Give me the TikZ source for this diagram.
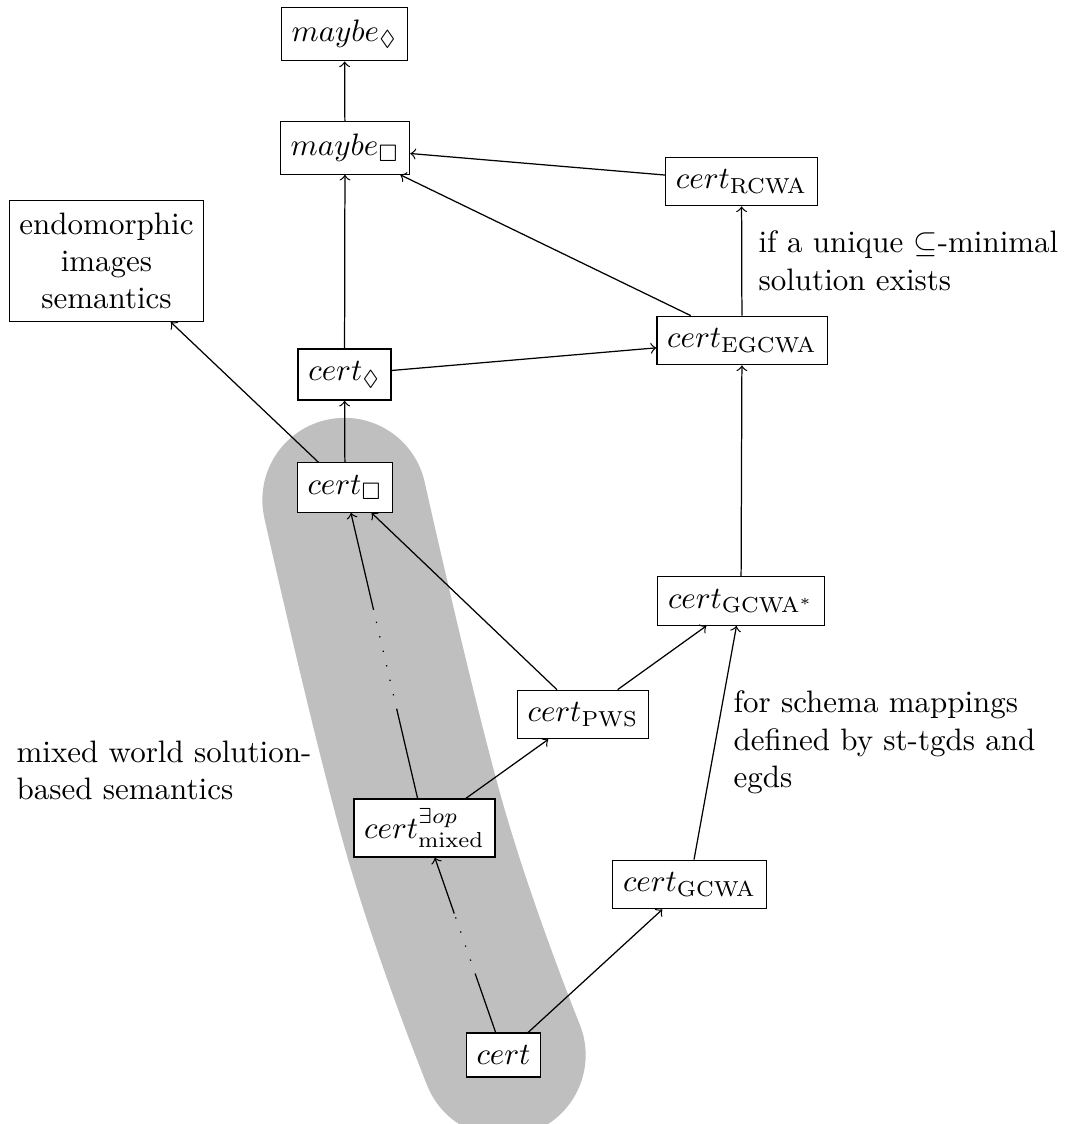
\documentclass[tikz,border=0pt]{standalone}
\usepackage{amssymb}
\usetikzlibrary{arrows}
\begin{document}
\begin{tikzpicture}[x=0.3226pt,y=-0.3226pt,
  box/.style={draw,fill=white,inner xsep=3.333pt,inner ysep=4pt},
  lab/.style={anchor=north west,align=left,inner sep=0pt},
  edge/.style={->},
  sparsedots/.style={dash pattern=on 0.4pt off 4.4pt}]
\useasboundingbox (0,0) rectangle (1067,1124);
% gray band
\draw[line width=53pt,color=lightgray,line cap=round,line join=round]
  plot[smooth,tension=0.7] coordinates {(344.5,500) (424.5,828) (503.5,1055)};
% nodes
\node[box] (md) at (344.5,34) {$maybe_{\Diamond}$};
\node[box] (mb) at (345,148) {$maybe_{\Box}$};
\node[box] (rcwa) at (741.5,181.5) {$cert_{\mathrm{RCWA}}$};
\node[box,align=center] (endo) at (106.5,261) {endomorphic\\images\\semantics};
\node[box] (cd) at (344.5,374.5) {$cert_{\Diamond}$};
\node[box] (egcwa) at (742,340.5) {$cert_{\mathrm{EGCWA}}$};
\node[box] (cb) at (345,487.5) {$cert_{\Box}$};
\node[box] (gcwas) at (741,601) {$cert_{\mathrm{GCWA}^*}$};
\node[box] (pws) at (583,714.5) {$cert_{\mathrm{PWS}}$};
\node[box,inner ysep=3pt] (mixed) at (424.5,828) {$cert^{\exists op}_{\mathrm{mixed}}$};
\node[box] (gcwa) at (689.5,884.5) {$cert_{\mathrm{GCWA}}$};
\node[box] (cert) at (503.5,1055) {$cert$};
% labels
\node[lab] (l1) at (758,230.5) {if a unique $\subseteq$-minimal\\solution exists};
\node[lab] (l2) at (733,690.5) {for schema mappings\\defined by st-tgds and\\egds};
\node[lab] (l3) at (16,740.5) {mixed world solution-\\based semantics};
% edges
\draw[edge] (mb) -- (md);
\draw[edge] (rcwa) -- (mb);
\draw[edge] (egcwa) -- (mb);
\draw[edge] (egcwa) -- (rcwa);
\draw[edge] (cd) -- (mb);
\draw[edge] (cd) -- (egcwa);
\draw[edge] (cb) -- (endo);
\draw[edge] (cb) -- (cd);
\draw[edge] (pws) -- (cb);
\draw[edge] (mixed) -- (pws);
\draw[edge] (pws) -- (gcwas);
\draw[edge] (gcwa) -- (gcwas);
\draw[edge] (gcwas) -- (egcwa);
\draw[edge] (cert) -- (gcwa);
% partially dotted edges
\path (mixed) -- (cb) coordinate[pos=0.31] (ma) coordinate[pos=0.66] (mbb);
\draw (mixed) -- (ma);
\draw[sparsedots] (ma) -- (mbb);
\draw[edge] (mbb) -- (cb);
\path (cert) -- (mixed) coordinate[pos=0.33] (ca) coordinate[pos=0.68] (cbb);
\draw (cert) -- (ca);
\draw[sparsedots] (ca) -- (cbb);
\draw[edge] (cbb) -- (mixed);
\end{tikzpicture}
\end{document}
